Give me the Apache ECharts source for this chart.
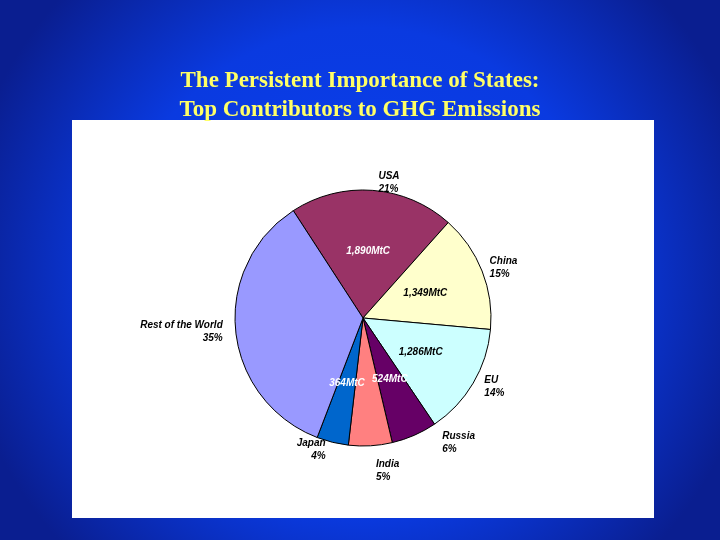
<!DOCTYPE html><html><head><meta charset="utf-8"><script src="https://cdn.jsdelivr.net/npm/echarts@6/dist/echarts.min.js"></script>
<style>html,body{margin:0;padding:0}#c{width:720px;height:540px}</style></head><body><div id="c"></div><script>
const names=['USA','China','EU','Russia','India','Japan','Rest of the World'];
const values=[1890,1349,1286,524,501,364,3185];
const percents=['21%','15%','14%','6%','5%','4%','35%'];
const valueLabels=['1,890MtC','1,349MtC','1,286MtC','524MtC','501MtC','364MtC',''];
const colors=['#993366','#ffffcc','#ccffff','#660066','#ff8080','#0066cc','#9999ff'];
const innerColors=['#fff','#000','#000','#fff','#fff','#fff','#000'];
const chart=echarts.init(document.getElementById('c'));
const data=names.map((n,i)=>({name:n,value:values[i],itemStyle:{color:colors[i]}}));
chart.setOption({
 backgroundColor:{type:'radial',x:0.5,y:0.5,r:0.75,colorStops:[{offset:0,color:'#0a40f0'},{offset:0.6,color:'#0a3ae0'},{offset:1,color:'#0a1e90'}]},
 title:{text:'The Persistent Importance of States:\nTop Contributors to GHG Emissions',left:'center',top:62,textStyle:{color:'#ffff66',fontFamily:'Liberation Serif',fontWeight:'bold',fontSize:23,lineHeight:29}},
 graphic:[{type:'rect',shape:{x:72,y:120,width:582,height:398},style:{fill:'#fff'},z:-1}],
 series:[
 {type:'pie',center:[363,318],radius:128,startAngle:123,clockwise:true,silent:true,data:data,
  itemStyle:{borderColor:'#000',borderWidth:1},
  label:{position:'outside',distance:12,formatter:p=>p.name+'\n'+percents[p.dataIndex],fontFamily:'Liberation Sans',fontStyle:'italic',fontWeight:'bold',fontSize:10,color:'#000',lineHeight:13,align:'center'},
  labelLine:{show:false,length:8,length2:0}},
 {type:'pie',center:[363,318],radius:128,startAngle:123,clockwise:true,silent:true,z:3,
  data:names.map((n,i)=>({name:n,value:values[i],itemStyle:{color:'transparent'},label:{color:innerColors[i]}})),
  label:{position:'inner',formatter:p=>valueLabels[p.dataIndex],fontFamily:'Liberation Sans',fontStyle:'italic',fontWeight:'bold',fontSize:10}}
 ]});
</script></body></html>
